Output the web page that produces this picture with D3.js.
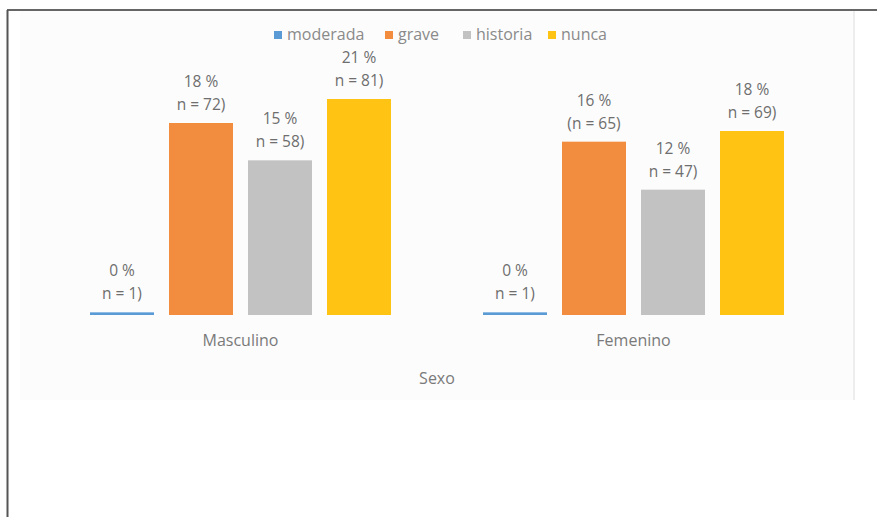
<!DOCTYPE html>
<html><head><meta charset="utf-8">
<script src="https://cdn.jsdelivr.net/npm/d3@7"></script>
<style>html,body{margin:0;padding:0;background:#fff;}svg{display:block;}</style>
</head><body>
<svg id="chart" width="877" height="517"></svg>
<script>
const groups = ["Masculino", "Femenino"];
const series = ["moderada", "grave", "historia", "nunca"];
const counts = {
  Masculino: [1, 72, 58, 81],
  Femenino: [1, 65, 47, 69]
};
const percentLabels = {
  Masculino: ["0 %", "18 %", "15 %", "21 %"],
  Femenino: ["0 %", "16 %", "12 %", "18 %"]
};
const countLabels = {
  Masculino: ["n = 1)", "n = 72)", "n = 58)", "n = 81)"],
  Femenino: ["n = 1)", "(n = 65)", "n = 47)", "n = 69)"]
};
const colors = ["#5b9bd5", "#f28c3e", "#c2c2c2", "#ffc313"];
const axisTitle = "Sexo";

const svg = d3.select("#chart");
const font = "'Open Sans', sans-serif";

// panel background
svg.append("rect").attr("x", 20).attr("y", 11).attr("width", 835).attr("height", 389).attr("fill", "#fcfcfc");
svg.append("line").attr("x1", 854).attr("x2", 854).attr("y1", 11).attr("y2", 400).attr("stroke", "#ededed").attr("stroke-width", 2);
// outer frame
svg.append("line").attr("x1", 7).attr("x2", 877).attr("y1", 10).attr("y2", 10).attr("stroke", "#333").attr("stroke-width", 1.5);
svg.append("line").attr("x1", 7.5).attr("x2", 7.5).attr("y1", 10).attr("y2", 517).attr("stroke", "#555").attr("stroke-width", 2);

const x0 = d3.scaleBand().domain(groups).range([44, 830]).padding(0);
const x1 = d3.scaleBand().domain(series).range([46, 347]).paddingInner(0.19).paddingOuter(0);
const y = d3.scaleLinear().domain([0, 90]).range([315, 75]);

const g = svg.append("g");
groups.forEach(grp => {
  const gg = g.append("g").attr("transform", `translate(${x0(grp)},0)`);
  series.forEach((s, i) => {
    const v = counts[grp][i];
    const bx = x1(s), bw = x1.bandwidth();
    gg.append("rect").attr("x", bx).attr("y", y(v)).attr("width", bw)
      .attr("height", y(0) - y(v)).attr("fill", colors[i]);
    const cx = bx + bw / 2;
    gg.append("text").attr("x", cx).attr("y", y(v) - 13).attr("text-anchor", "middle")
      .attr("font-family", font).attr("font-size", 15.5).attr("fill", "#6e6e6e").text(countLabels[grp][i]);
    gg.append("text").attr("x", cx).attr("y", y(v) - 36).attr("text-anchor", "middle")
      .attr("font-family", font).attr("font-size", 15.5).attr("fill", "#6e6e6e").text(percentLabels[grp][i]);
  });
});

// category axis labels
const xAxis = d3.axisBottom(x0).tickSize(0).tickPadding(0);
const ax = svg.append("g").attr("transform", "translate(0,346)").call(xAxis);
ax.select(".domain").remove();
ax.selectAll("text").attr("font-family", font).attr("font-size", 16).attr("fill", "#7a7a7a").attr("dy", "0");

svg.append("text").attr("x", 437).attr("y", 384).attr("text-anchor", "middle")
  .attr("font-family", font).attr("font-size", 16).attr("fill", "#7a7a7a").text(axisTitle);

// legend
const legendX = [274, 385, 463, 548];
const lg = svg.append("g");
series.forEach((s, i) => {
  lg.append("rect").attr("x", legendX[i]).attr("y", 31).attr("width", 8).attr("height", 8).attr("fill", colors[i]);
  lg.append("text").attr("x", legendX[i] + 13).attr("y", 40).attr("font-family", font).attr("font-size", 16)
    .attr("fill", "#8a8a8a").text(s);
});
</script>
</body></html>
